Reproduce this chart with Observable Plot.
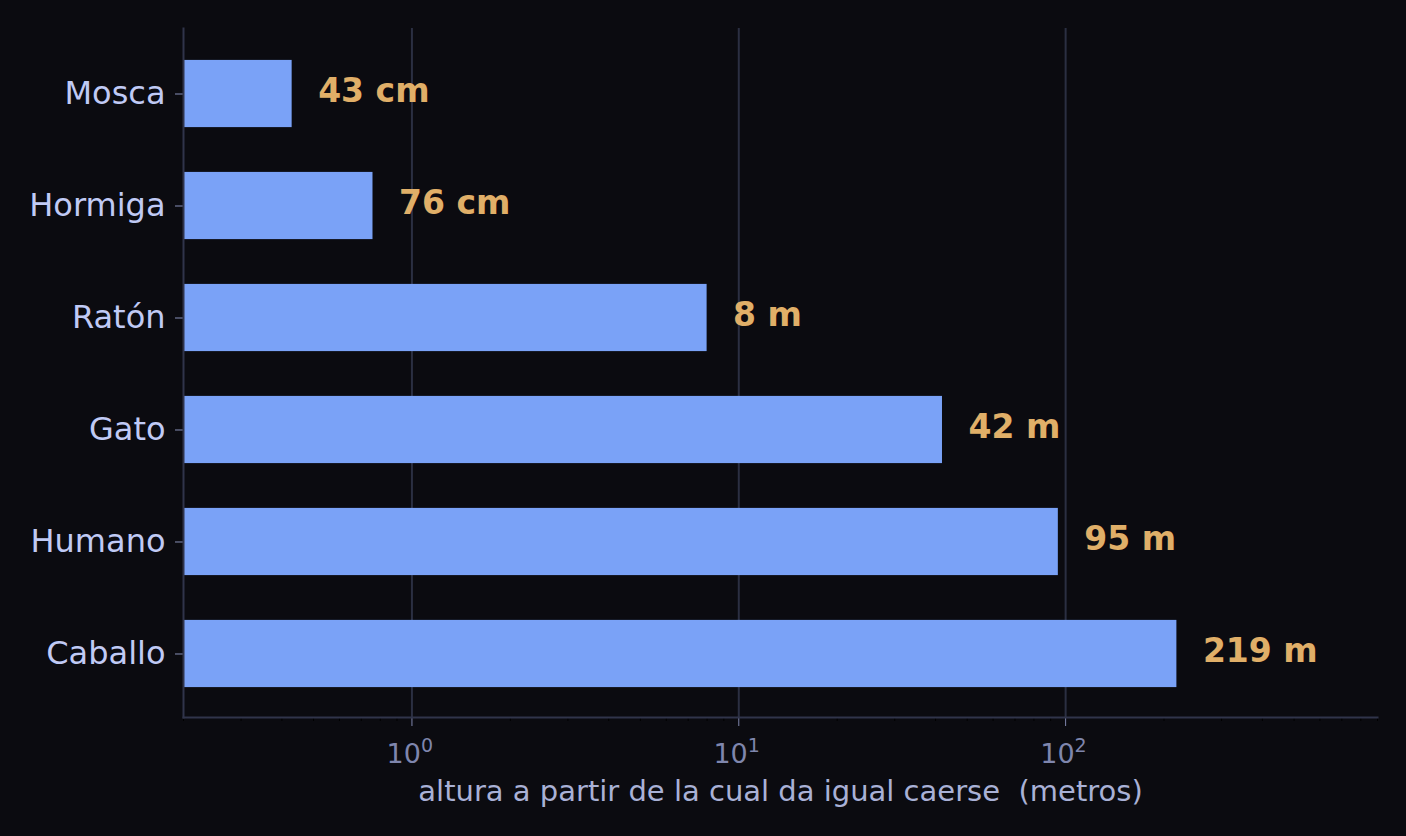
<!DOCTYPE html>
<html>
<head>
<meta charset="utf-8">
<script src="https://cdn.jsdelivr.net/npm/d3@7"></script>
<script src="https://cdn.jsdelivr.net/npm/@observablehq/plot@0.6"></script>
<style>
  html, body { margin: 0; padding: 0; background: #0b0b10; }
  #chart svg { display: block; }
</style>
</head>
<body>
<div id="chart"></div>
<script>
const animals = ["Mosca", "Hormiga", "Ratón", "Gato", "Humano", "Caballo"];
const heights = [0.43, 0.76, 8, 42, 95, 219];
const valueLabels = ["43 cm", "76 cm", "8 m", "42 m", "95 m", "219 m"];
const xDomain = [0.2, 900];
const majorTicks = [1, 10, 100];
const majorTickBase = "10";
const majorTickExponents = ["0", "1", "2"];
const axisTitle = "altura a partir de la cual da igual caerse  (metros)";

const data = animals.map((a, i) => ({animal: a, value: heights[i], label: valueLabels[i], base: xDomain[0]}));
const tickData = majorTicks.map((t, i) => ({t, exp: majorTickExponents[i]}));

const minorTicks = [];
for (const d of [0.1, 1, 10, 100]) for (let k = 2; k <= 9; k++) {
  const v = d * k;
  if (v >= xDomain[0] && v <= xDomain[1] * 1.0001) minorTicks.push(v);
}

const font = "DejaVu Sans";
const tickColor = "#7f86ad";
const chart = Plot.plot({
  width: 1406,
  height: 836,
  marginLeft: 183,
  marginRight: 29,
  marginTop: 28,
  marginBottom: 119,
  style: {background: "#0b0b10", fontFamily: font},
  x: {type: "log", domain: xDomain},
  y: {type: "band", domain: animals, range: [29, 718], round: false, paddingInner: 0.4, paddingOuter: 0.276, axis: null},
  marks: [
    Plot.ruleX(majorTicks, {stroke: "#2b2f42", strokeWidth: 2}),
    Plot.barX(data, {y: "animal", x1: "base", x2: "value", fill: "#7aa2f7", insetLeft: 1}),
    Plot.text(data, {y: "animal", x: "value", text: "label", textAnchor: "start", dx: 26, dy: -3, fill: "#e0af68", fontWeight: "bold", fontSize: 33, fontFamily: font}),
    Plot.axisY({anchor: "left", tickSize: 8, tickPadding: 10, fontSize: 32, fontFamily: font, color: "#c0caf5", stroke: "#8890b8", label: null}),
    Plot.axisX({ticks: minorTicks, tickSize: 4, tickFormat: () => "", stroke: "#000000", label: null}),
    Plot.axisX({ticks: majorTicks, tickSize: 9, tickFormat: () => "", stroke: tickColor, label: null}),
    Plot.text(tickData, {x: "t", text: () => majorTickBase, frameAnchor: "bottom", lineAnchor: "bottom", textAnchor: "end", dx: 9, dy: 45, fill: tickColor, fontSize: 27, fontFamily: font}),
    Plot.text(tickData, {x: "t", text: "exp", frameAnchor: "bottom", lineAnchor: "bottom", textAnchor: "start", dx: 9, dy: 34, fill: tickColor, fontSize: 19, fontFamily: font}),
    Plot.frame({anchor: "left", stroke: "#30344a", strokeWidth: 2}),
    Plot.frame({anchor: "bottom", stroke: "#30344a", strokeWidth: 2}),
    Plot.text([axisTitle], {frameAnchor: "bottom", dy: 83, text: d => d, fill: "#a9b1d6", fontSize: 29, fontFamily: font})
  ]
});
document.getElementById("chart").appendChild(chart);
</script>
</body>
</html>
